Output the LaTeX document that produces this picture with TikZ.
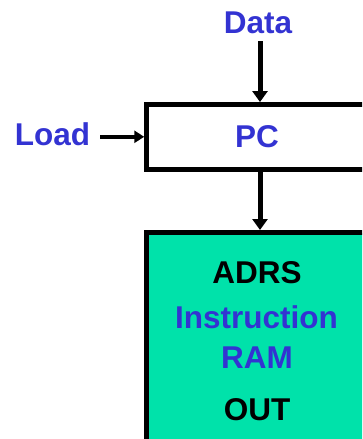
\documentclass[tikz,border=0pt]{standalone}
\usepackage{fontspec}
\setmainfont{Liberation Sans}
\usetikzlibrary{arrows.meta}
\usetikzlibrary{positioning}
\definecolor{labelblue}{RGB}{51,51,210}
\definecolor{ramgreen}{RGB}{0,226,170}
\tikzset{
  lbl/.style={font=\bfseries\fontsize{31.5}{37}\selectfont, inner sep=0pt},
  bus/.style={line width=5pt, -{Triangle[width=15pt,length=11pt]}},
  ctl/.style={line width=4pt, -{Triangle[width=12pt,length=10pt]}},
  unitbox/.style={draw=black, line width=5pt, minimum width=220.5pt, inner sep=0pt},
}

\begin{document}
\begin{tikzpicture}[x=1pt,y=-1pt]
\useasboundingbox (0,0) rectangle (362,439);
\clip (0,0) rectangle (362,439);

% program counter
\node[unitbox, minimum height=64.5pt, lbl, text=labelblue] (pc) at (257,136.8) {PC};
\node[lbl, text=labelblue] (data) at (258,22.5) {Data};
\node[lbl, text=labelblue] (load) at (52.5,134.2) {Load};

% instruction memory
\node[unitbox, fill=ramgreen, minimum height=240pt] (ram) at (257,352.5) {};
\node[lbl, text=black] (adrs) at (257,272.5) {ADRS};
\node[lbl, text=labelblue] (instr) at (256.5,317) {Instruction};
\node[lbl, text=labelblue] (ramname) at (257,357.5) {RAM};
\node[lbl, text=black] (out) at (257,410) {OUT};

\draw[bus, shorten <=7.5pt] ([xshift=2pt]data.south) -- ([xshift=2pt]data.south |- pc.north);
\draw[ctl, shorten <=10pt] (load.east |- pc.west) -- (pc.west);
\draw[bus] ([xshift=3pt]pc.south) -- ([xshift=3pt]pc.south |- ram.north);

\end{tikzpicture}
\end{document}
